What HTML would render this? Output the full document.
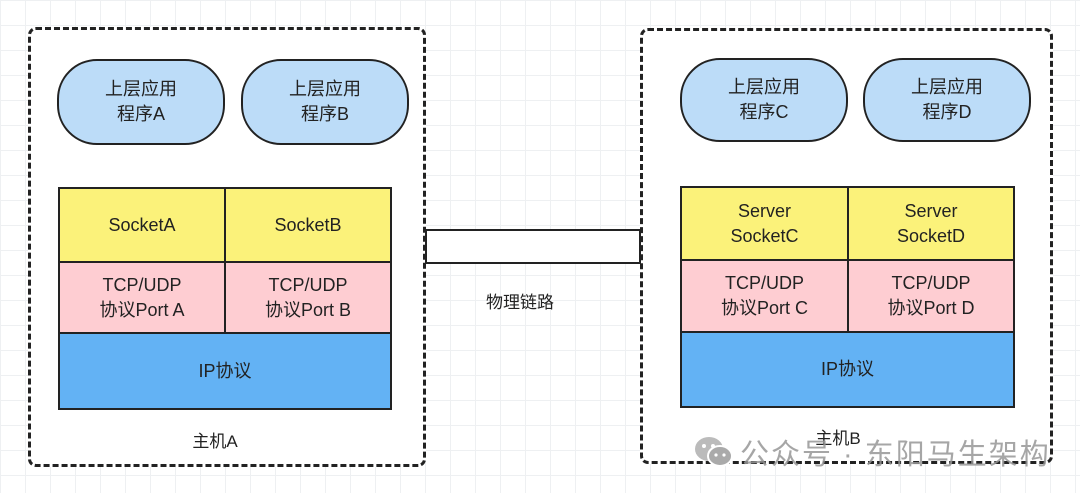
<!DOCTYPE html>
<html><head><meta charset="utf-8"><style>
html,body{margin:0;padding:0}
body{width:1080px;height:493px;position:relative;overflow:hidden;background:#fff;
background-image:linear-gradient(#eef0f2 1px,transparent 1px),linear-gradient(90deg,#eef0f2 1px,transparent 1px);background-size:25px 25px;
font-family:"Liberation Sans","Noto Sans CJK SC",sans-serif;color:#222}
.abs{position:absolute;box-sizing:border-box}
.host{background:#fff;border:3px dashed #222;border-radius:8px}
.pill{background:#bcdcf8;border:2.5px solid #222;border-radius:40px;display:flex;align-items:center;justify-content:center;text-align:center;font-size:18px;line-height:25px}
.cell{border:2.5px solid #222;display:flex;align-items:center;justify-content:center;text-align:center;font-size:18px;line-height:25px}
.y{background:#fbf27a}.p{background:#fecdd2}.b{background:#63b2f4}
.lbl{font-size:17px}
</style></head><body>
<div class="abs host" style="left:28px;top:27px;width:398px;height:440px"></div>
<div class="abs host" style="left:640px;top:28px;width:413px;height:436px"></div>
<div class="abs" style="left:425px;top:229px;width:216px;height:35px;border:2.5px solid #222;background:#fff"></div>
<div class="abs lbl" style="left:465px;top:288px;width:110px;text-align:center">物理链路</div>

<div class="abs pill" style="left:57px;top:59px;width:168px;height:86px">上层应用<br>程序A</div>
<div class="abs pill" style="left:241px;top:59px;width:168px;height:86px">上层应用<br>程序B</div>
<div class="abs cell y" style="left:58px;top:187px;width:168px;height:76px">SocketA</div>
<div class="abs cell y" style="left:224px;top:187px;width:168px;height:76px">SocketB</div>
<div class="abs cell p" style="left:58px;top:261px;width:168px;height:73px">TCP/UDP<br>协议Port A</div>
<div class="abs cell p" style="left:224px;top:261px;width:168px;height:73px">TCP/UDP<br>协议Port B</div>
<div class="abs cell b" style="left:58px;top:332px;width:334px;height:78px">IP协议</div>
<div class="abs lbl" style="left:165px;top:427px;width:100px;text-align:center">主机A</div>

<div class="abs pill" style="left:680px;top:58px;width:168px;height:84px">上层应用<br>程序C</div>
<div class="abs pill" style="left:863px;top:58px;width:168px;height:84px">上层应用<br>程序D</div>
<div class="abs cell y" style="left:680px;top:186px;width:169px;height:75px">Server<br>SocketC</div>
<div class="abs cell y" style="left:847px;top:186px;width:168px;height:75px">Server<br>SocketD</div>
<div class="abs cell p" style="left:680px;top:259px;width:169px;height:74px">TCP/UDP<br>协议Port C</div>
<div class="abs cell p" style="left:847px;top:259px;width:168px;height:74px">TCP/UDP<br>协议Port D</div>
<div class="abs cell b" style="left:680px;top:331px;width:335px;height:77px">IP协议</div>
<div class="abs lbl" style="left:788px;top:424px;width:100px;text-align:center">主机B</div>

<svg class="abs" style="left:690px;top:432px" width="50" height="40" viewBox="0 0 50 40">
<ellipse cx="19" cy="17" rx="14" ry="12" fill="#bbb"/><ellipse cx="30" cy="24" rx="12" ry="10" fill="#aaa" stroke="#fff" stroke-width="2"/>
<circle cx="14" cy="14" r="2" fill="#fff"/><circle cx="23" cy="14" r="2" fill="#fff"/>
<circle cx="26" cy="23" r="1.6" fill="#fff"/><circle cx="34" cy="23" r="1.6" fill="#fff"/></svg>
<div class="abs" style="left:740px;top:431px;font-size:29px;color:rgba(150,150,150,0.85);white-space:nowrap;letter-spacing:2px">公众号 · 东阳马生架构</div>
</body></html>
